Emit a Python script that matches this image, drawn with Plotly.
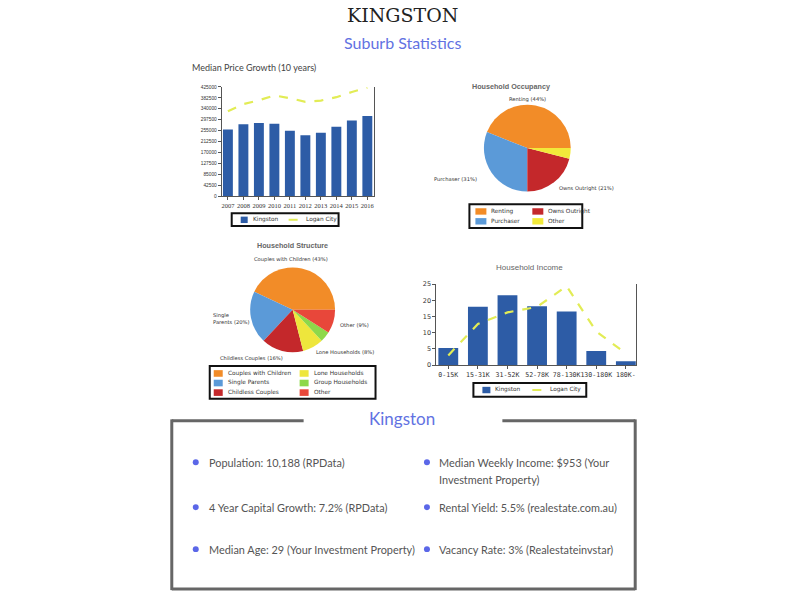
import plotly.graph_objects as go

W, H = 800, 600

def px(x):
    return x / W

def py(y):
    return 1 - y / H

# ---------------- data ----------------
years = ['2007', '2008', '2009', '2010', '2011', '2012', '2013', '2014', '2015', '2016']
kingston_price = [260000, 280000, 285000, 282000, 255000, 237000, 247000, 270000, 295000, 312000]
logan_price = [330000, 358000, 373000, 392000, 381000, 367000, 372000, 385000, 405000, 422000]
price_ticks = [0, 42500, 85000, 127500, 170000, 212500, 255000, 297500, 340000, 382500, 425000]

occupancy_labels = ['Renting', 'Purchaser', 'Owns Outright', 'Other']
occupancy_values = [44, 31, 21, 4]

structure_labels = ['Couples with Children', 'Single Parents', 'Childless Couples',
                    'Lone Households', 'Group Households', 'Other']
structure_values = [43, 20, 16, 8, 4, 9]

income_bands = ['0-15K', '15-31K', '31-52K', '52-78K', '78-130K', '130-180K', '180K-']
kingston_income = [5.3, 18.0, 21.6, 18.2, 16.6, 4.4, 1.2]
logan_income = [3.0, 12.7, 16.3, 18.0, 24.4, 10.4, 3.6]
income_ticks = [0, 5, 10, 15, 20, 25]

stats_left = ['Population: 10,188 (RPData)',
              '4 Year Capital Growth: 7.2% (RPData)',
              'Median Age: 29 (Your Investment Property)']
stats_right = ['Median Weekly Income: $953 (Your<br>Investment Property)',
               'Rental Yield: 5.5% (realestate.com.au)',
               'Vacancy Rate: 3% (Realestateinvstar)']

# ---------------- styles ----------------
BAR_BLUE = '#2D5CA6'
LINE_YELLOW = '#E2EC55'
occupancy_colors = ['#F28C28', '#5B9AD8', '#C4282B', '#F2EA3A']
structure_colors = ['#F28C28', '#5B9AD8', '#C4282B', '#EEE63C', '#8DD84A', '#E8473A']
ACCENT = '#6272E2'
TXT = '#555555'

def first_slice_rotation(values):
    # first slice runs counterclockwise from 3 o'clock
    return 90 - 360 * values[0] / sum(values)

fig = go.Figure()

# Median price growth chart
fig.add_trace(go.Bar(x=years, y=kingston_price, name='Kingston', marker_color=BAR_BLUE,
                     marker_line_width=0, width=0.64, xaxis='x', yaxis='y', showlegend=False))
fig.add_trace(go.Scatter(x=years, y=logan_price, name='Logan City', mode='lines',
                         line=dict(color=LINE_YELLOW, width=2.2, dash='dash'),
                         xaxis='x', yaxis='y', showlegend=False))

# Household income chart
fig.add_trace(go.Bar(x=income_bands, y=kingston_income, name='Kingston', marker_color=BAR_BLUE,
                     marker_line_width=0, width=0.67, xaxis='x2', yaxis='y2', showlegend=False))
fig.add_trace(go.Scatter(x=income_bands, y=logan_income, name='Logan City', mode='lines',
                         line=dict(color=LINE_YELLOW, width=2.2, dash='dash'),
                         xaxis='x2', yaxis='y2', showlegend=False))

# Pies
fig.add_trace(go.Pie(labels=occupancy_labels, values=occupancy_values, sort=False,
                     direction='counterclockwise', rotation=first_slice_rotation(occupancy_values),
                     textinfo='none',
                     marker=dict(colors=occupancy_colors, line=dict(width=0)),
                     domain=dict(x=[px(484), px(572)], y=[py(190), py(102)]),
                     showlegend=False))
fig.add_trace(go.Pie(labels=structure_labels, values=structure_values, sort=False,
                     direction='counterclockwise', rotation=first_slice_rotation(structure_values),
                     textinfo='none',
                     marker=dict(colors=structure_colors, line=dict(width=0)),
                     domain=dict(x=[px(250), px(336)], y=[py(353), py(267)]),
                     showlegend=False))

axis_common = dict(showline=True, linecolor='#555', linewidth=1, ticks='outside',
                   ticklen=3, tickcolor='#555', showgrid=False, zeroline=False)

fig.update_layout(
    width=W, height=H, margin=dict(l=0, r=0, t=0, b=0),
    paper_bgcolor='white', plot_bgcolor='white',
    xaxis=dict(domain=[px(222), px(374)], anchor='y', type='category', tickangle=0,
               range=[-0.4, 9.4], tickfont=dict(family='Liberation Serif', size=6.5, color='#333'),
               **axis_common),
    yaxis=dict(domain=[py(195), py(84)], anchor='x', range=[0, 425000],
               tickvals=price_ticks, ticktext=[str(v) for v in price_ticks],
               mirror=True,
               tickfont=dict(family='Liberation Sans Narrow, Liberation Sans', size=4.8, color='#333'),
               **axis_common),
    xaxis2=dict(domain=[px(437), px(637)], anchor='y2', type='category', tickangle=0,
                range=[-0.4, 6.35], tickfont=dict(family='DejaVu Sans Mono', size=6.6, color='#333'),
                **axis_common),
    yaxis2=dict(domain=[py(366), py(284)], anchor='x2', range=[0, 25],
                tickvals=income_ticks, mirror=True,
                tickfont=dict(family='DejaVu Sans', size=6.5, color='#333'),
                **axis_common),
)

ann = []
shapes = []

def text(x, y, s, size, color=TXT, family='Lato', xanchor='center', yanchor='middle', **kw):
    ann.append(dict(x=px(x), y=py(y), xref='paper', yref='paper', text=s, showarrow=False,
                    xanchor=xanchor, yanchor=yanchor, font=dict(family=family, size=size, color=color),
                    **kw))

# Headings
text(403, 11, 'KINGSTON', 19, color='#222', family='DejaVu Serif')
text(403, 39, 'Suburb Statistics', 16, color=ACCENT, family='Lato')
text(190, 64, 'Median Price Growth (10 years)', 9, color='#444', family='Lato', xanchor='left')
text(512, 84, '<b>Household Occupancy</b>', 7.2, color='#666', family='Liberation Sans')
text(293, 245, '<b>Household Structure</b>', 7.2, color='#666', family='Liberation Sans')
text(530, 267, 'Household Income', 8, color='#666', family='Liberation Sans')

# Pie labels
PL = dict(size=5.2, color='#333', family='DejaVu Sans')
text(528, 97, f'{occupancy_labels[0]} ({occupancy_values[0]}%)', **PL)
text(480, 177, f'{occupancy_labels[1]} ({occupancy_values[1]}%)', xanchor='right', **PL)
text(558, 187, f'{occupancy_labels[2]} ({occupancy_values[2]}%)', xanchor='left', **PL)

text(291, 259, f'{structure_labels[0]} ({structure_values[0]}%)', **PL)
text(211, 318.5, f'Single<br>Parents ({structure_values[1]}%)', xanchor='left', align='left', **PL)
text(252, 359, f'{structure_labels[2]} ({structure_values[2]}%)', **PL)
text(345, 353, f'{structure_labels[3]} ({structure_values[3]}%)', **PL)
text(338, 325, f'{structure_labels[5]} ({structure_values[5]}%)', xanchor='left', **PL)

# Legend helpers
LF = dict(size=5.8, color='#333', family='DejaVu Sans')

def legend_box(x0, y0, x1, y1):
    shapes.append(dict(type='rect', xref='paper', yref='paper', x0=px(x0), x1=px(x1),
                       y0=py(y1), y1=py(y0), line=dict(color='#111', width=2), fillcolor='white'))

def swatch(x0, y0, x1, y1, color):
    shapes.append(dict(type='rect', xref='paper', yref='paper', x0=px(x0), x1=px(x1),
                       y0=py(y1), y1=py(y0), line=dict(width=0), fillcolor=color))

def dashline(x0, x1, y):
    shapes.append(dict(type='line', xref='paper', yref='paper', x0=px(x0), x1=px(x1),
                       y0=py(y), y1=py(y), line=dict(color=LINE_YELLOW, width=2, dash='dash')))

# Price chart legend
legend_box(232, 212, 339, 225)
swatch(241, 215.5, 248, 222, BAR_BLUE)
text(251, 218.7, 'Kingston', xanchor='left', **LF)
dashline(289, 304, 218.7)
text(304.5, 218.7, 'Logan City', xanchor='left', **LF)

# Income chart legend
legend_box(474, 384, 587, 398)
swatch(483, 388, 491, 394.5, BAR_BLUE)
text(494, 391.2, 'Kingston', xanchor='left', **LF)
dashline(533, 548, 391.2)
text(549, 391.2, 'Logan City', xanchor='left', **LF)

# Occupancy legend (2 columns)
legend_box(470, 203, 583, 227)
occ_pos = [(476, 210), (476, 220), (533, 210), (533, 220)]
for (lx, ly), lab, col in zip(occ_pos, occupancy_labels, occupancy_colors):
    swatch(lx, ly - 3, lx + 11, ly + 3.5, col)
    text(lx + 14, ly, lab, xanchor='left', **LF)

# Structure legend (2 columns x 3 rows)
legend_box(210, 367, 376, 400)
str_pos = [(214, 374.3), (214, 384), (214, 393.7), (300, 374.3), (300, 384), (300, 393.7)]
for (lx, ly), lab, col in zip(str_pos, structure_labels, structure_colors):
    swatch(lx, ly - 3.2, lx + 9, ly + 3.5, col)
    text(lx + 12, ly, lab, xanchor='left', **LF)

# Bottom summary frame
FR = dict(color='#666', width=3)
for (x0, y0, x1, y1) in [(172, 422.5, 304, 422.5), (503, 422.5, 636, 422.5),
                         (172, 421, 172, 594), (636, 421, 636, 594), (172, 593, 636, 593)]:
    shapes.append(dict(type='line', xref='paper', yref='paper', x0=px(x0), x1=px(x1),
                       y0=py(y0), y1=py(y1), line=FR))
text(403, 420, 'Kingston', 17, color=ACCENT, family='Lato')

rows_y = [464.5, 510, 552.5]
BF = dict(size=10.9, color='#555', family='Lato')
for i, (sl, sr) in enumerate(zip(stats_left, stats_right)):
    y = rows_y[i]
    for dx in (196, 427.5):
        shapes.append(dict(type='circle', xref='paper', yref='paper', x0=px(dx - 3), x1=px(dx + 3),
                           y0=py(y + 3), y1=py(y - 3), fillcolor='#5B67E8', line=dict(width=0)))
    text(207.5, y, sl, xanchor='left', **BF)
    for k, line in enumerate(sr.split('<br>')):
        text(437.5, y + 17 * k, line, xanchor='left', **BF)

fig.update_layout(annotations=ann, shapes=shapes)
fig.write_html('out.html', config={'displayModeBar': False},
               post_script="document.body.style.margin='0';document.body.style.padding='0';"
                           "document.body.style.overflow='hidden';")
